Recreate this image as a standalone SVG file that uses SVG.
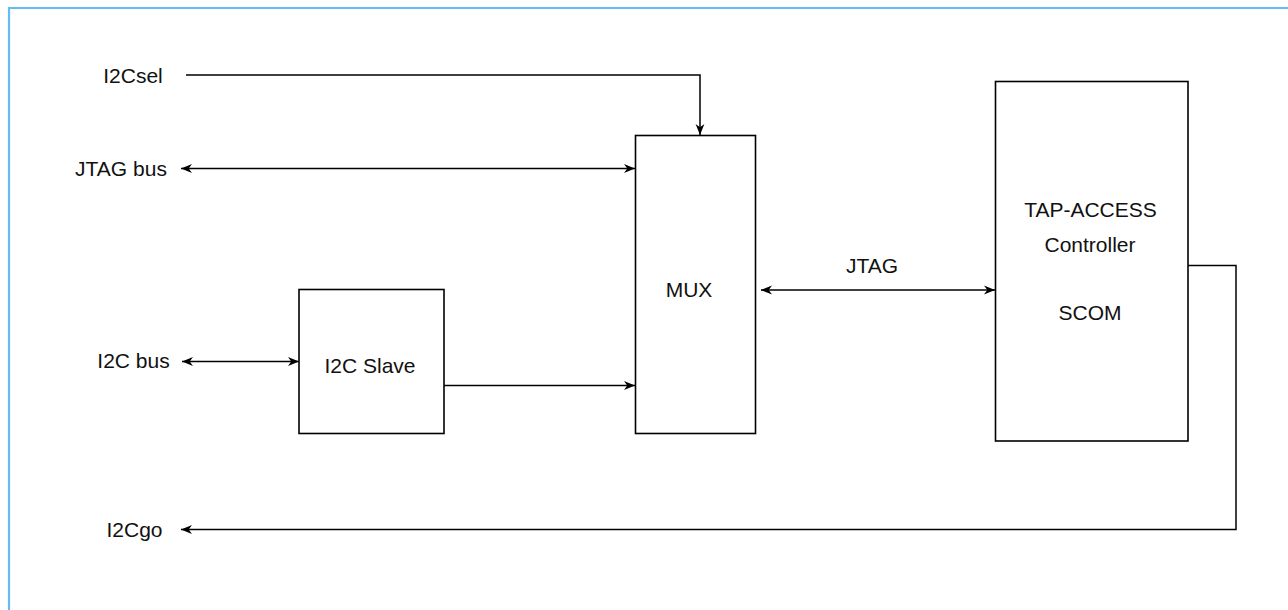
<svg xmlns="http://www.w3.org/2000/svg" width="1288" height="610" viewBox="0 0 1288 610">
<style>
.box{fill:#fff;stroke:#000;stroke-width:1.6}
.ln{fill:none;stroke:#000;stroke-width:1.5}
text{font-family:"Liberation Sans",Arial,Helvetica,sans-serif;font-size:21px;fill:#111;text-anchor:middle}
</style>
<defs>
<marker id="ae" viewBox="0 0 10 10" refX="10" refY="5" markerWidth="11" markerHeight="11" markerUnits="userSpaceOnUse" orient="auto">
<path d="M0,1 L10,5 L0,9 L3,5 Z" fill="#000"/>
</marker>
<marker id="as" viewBox="0 0 10 10" refX="0" refY="5" markerWidth="11" markerHeight="11" markerUnits="userSpaceOnUse" orient="auto">
<path d="M10,1 L0,5 L10,9 L7,5 Z" fill="#000"/>
</marker>
</defs>
<rect width="1288" height="610" fill="#fff"/>
<path d="M9,610 V8 H1288" fill="none" stroke="#66bbf5" stroke-width="2.2"/>
<g id="connectors">
<path class="ln" d="M186,75 H700 V135" marker-end="url(#ae)"/>
<path class="ln" d="M181,168.5 H635" marker-start="url(#as)" marker-end="url(#ae)"/>
<path class="ln" d="M182,361.5 H299" marker-start="url(#as)" marker-end="url(#ae)"/>
<path class="ln" d="M444,385.5 H635" marker-end="url(#ae)"/>
<path class="ln" d="M761,290 H995" marker-start="url(#as)" marker-end="url(#ae)"/>
<text x="872" y="273">JTAG</text>
<path class="ln" d="M1188,265.5 H1236 V529.5 H181" marker-end="url(#ae)"/>
</g>
<g id="label-i2csel"><text x="133" y="82.5">I2Csel</text></g>
<g id="label-jtagbus"><text x="121" y="176">JTAG bus</text></g>
<g id="label-i2cbus"><text x="133.5" y="368">I2C bus</text></g>
<g id="label-i2cgo"><text x="134.5" y="537">I2Cgo</text></g>
<g id="i2cslave"><rect class="box" x="299" y="289.5" width="145" height="144"/><text x="370" y="373">I2C Slave</text></g>
<g id="mux"><rect class="box" x="635.5" y="135.5" width="120" height="298"/><text x="689" y="297">MUX</text></g>
<g id="tap"><rect class="box" x="995.5" y="81.5" width="192.5" height="359.5"/>
<text x="1090.5" y="216.5">TAP-ACCESS</text>
<text x="1090" y="252">Controller</text>
<text x="1090" y="320">SCOM</text></g>
</svg>
